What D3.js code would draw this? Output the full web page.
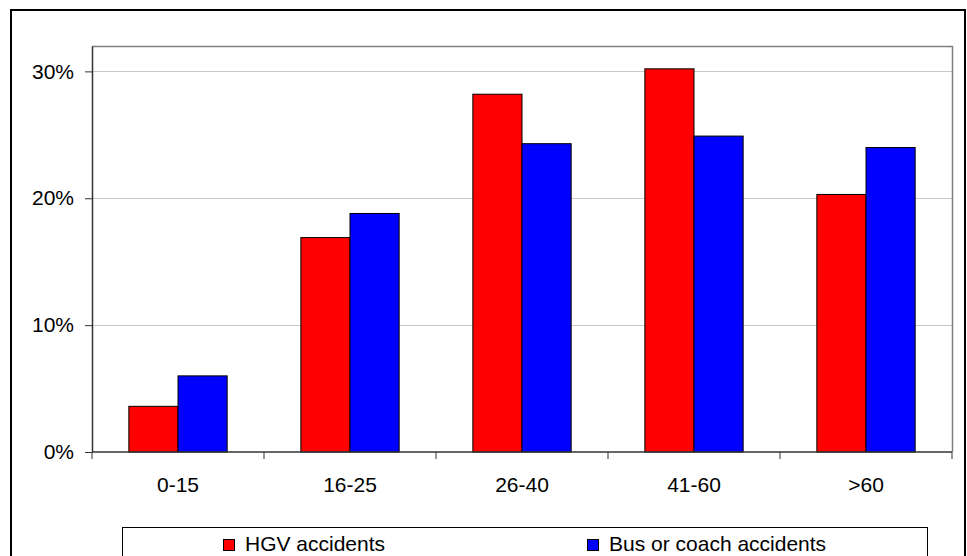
<!DOCTYPE html>
<html>
<head>
<meta charset="utf-8">
<script src="https://cdn.jsdelivr.net/npm/d3@7"></script>
<style>
  html, body { margin: 0; padding: 0; background: #fff; }
  svg { display: block; font-family: Arial, "Liberation Sans", sans-serif; }
</style>
</head>
<body>
<svg id="chart" width="967" height="556"></svg>
<script>
// Share of accidents by age group
const categories = ["0-15", "16-25", "26-40", "41-60", ">60"];
const hgvValues = [3.6, 16.9, 28.2, 30.2, 20.3];
const busValues = [6.0, 18.8, 24.3, 24.9, 24.0];
const seriesNames = ["HGV accidents", "Bus or coach accidents"];
const seriesColors = ["#ff0000", "#0000ff"];
const yTicks = [0, 10, 20, 30];

const svg = d3.select("#chart");
const plot = { left: 92, right: 952, top: 46, bottom: 452 };

// Outer frame
svg.append("rect")
  .attr("x", 11).attr("y", 10)
  .attr("width", 954).attr("height", 560)
  .attr("fill", "#fff").attr("stroke", "#000").attr("stroke-width", 2);

const x = d3.scaleBand().domain(categories).range([plot.left, plot.right]).paddingInner(0).paddingOuter(0);
const y = d3.scaleLinear().domain([0, 32]).range([plot.bottom, plot.top]);

// Gridlines
svg.append("g").selectAll("line").data(yTicks.filter(d => d > 0)).join("line")
  .attr("x1", plot.left).attr("x2", plot.right)
  .attr("y1", d => Math.round(y(d)) + 0.5).attr("y2", d => Math.round(y(d)) + 0.5)
  .attr("stroke", "#c8c8c8").attr("stroke-width", 1);

// Plot area frame (top and right)
svg.append("path")
  .attr("d", `M${plot.left},${plot.top + 0.5}H${plot.right + 0.5}V${plot.bottom}`)
  .attr("fill", "none").attr("stroke", "#808080").attr("stroke-width", 1.5);

// Bars
const barW = x.bandwidth() / 3.5;
const series = [hgvValues, busValues];
series.forEach((vals, si) => {
  svg.append("g").selectAll("rect").data(categories).join("rect")
    .attr("x", (c) => x(c) + (x.bandwidth() - 2 * barW) / 2 + si * barW)
    .attr("y", (c, i) => y(vals[i]))
    .attr("width", barW)
    .attr("height", (c, i) => y(0) - y(vals[i]))
    .attr("fill", seriesColors[si])
    .attr("stroke", "#000").attr("stroke-width", 1);
});

// Y axis
const yAxis = d3.axisLeft(y).tickValues(yTicks).tickSize(7).tickSizeOuter(0)
  .tickFormat(d => d + "%");
const gy = svg.append("g").attr("transform", `translate(${plot.left},0)`).call(yAxis);
gy.select(".domain").attr("stroke", "#333").attr("stroke-width", 1.5);
gy.selectAll(".tick line").attr("stroke", "#333");
gy.selectAll(".tick text").attr("x", -18).attr("font-size", 21).attr("fill", "#000")
  .attr("font-family", "Arial, 'Liberation Sans', sans-serif");

// X axis: baseline with ticks at category boundaries
const gx = svg.append("g");
gx.append("line")
  .attr("x1", plot.left).attr("x2", plot.right)
  .attr("y1", plot.bottom).attr("y2", plot.bottom)
  .attr("stroke", "#333").attr("stroke-width", 1.5);
const bounds = categories.map(c => x(c)).concat([x.range()[1]]);
gx.selectAll("line.tk").data(bounds).join("line").attr("class", "tk")
  .attr("x1", d => d).attr("x2", d => d)
  .attr("y1", plot.bottom).attr("y2", plot.bottom + 7)
  .attr("stroke", "#333").attr("stroke-width", 1);
gx.selectAll("text").data(categories).join("text")
  .attr("x", c => x(c) + x.bandwidth() / 2)
  .attr("y", 492)
  .attr("text-anchor", "middle")
  .attr("font-size", 21)
  .text(c => c);

// Legend
const legend = svg.append("g");
legend.append("rect")
  .attr("x", 122.5).attr("y", 527.5)
  .attr("width", 805).attr("height", 40)
  .attr("fill", "#fff").attr("stroke", "#000").attr("stroke-width", 1);
const legendX = [223, 587];
seriesNames.forEach((name, i) => {
  legend.append("rect")
    .attr("x", legendX[i] + 0.5).attr("y", 539.5)
    .attr("width", 11).attr("height", 11)
    .attr("fill", seriesColors[i]).attr("stroke", "#000").attr("stroke-width", 1);
  legend.append("text")
    .attr("x", legendX[i] + 22).attr("y", 551)
    .attr("font-size", 21)
    .text(name);
});
</script>
</body>
</html>
